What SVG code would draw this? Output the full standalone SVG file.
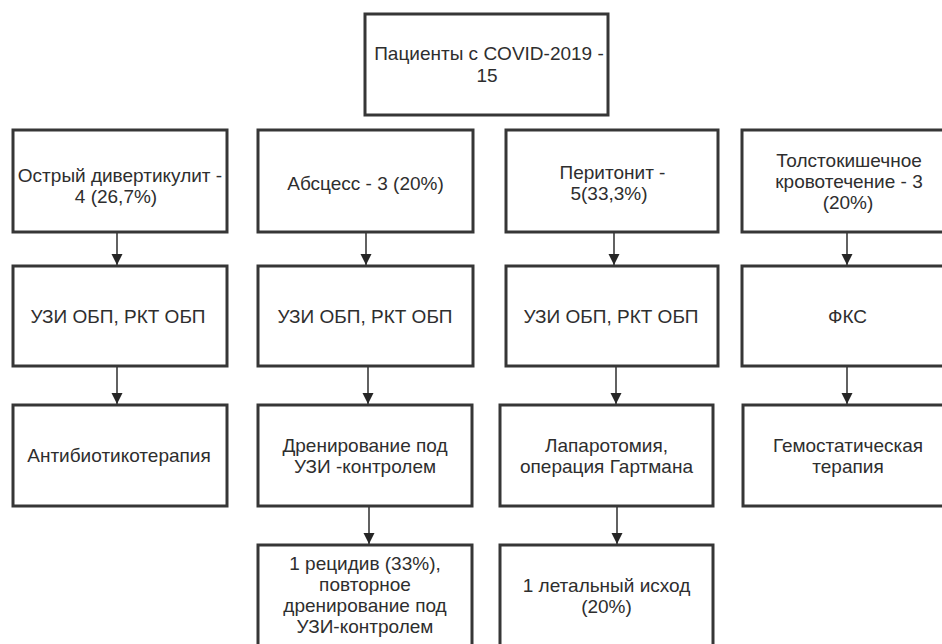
<svg xmlns="http://www.w3.org/2000/svg" width="942" height="644" viewBox="0 0 942 644">
<defs>
<style>
.box{fill:#fff;stroke:#363636;stroke-width:3}
.t{font-family:"Liberation Sans",Arial,sans-serif;font-size:19px;fill:#2e2e2e;text-anchor:middle}
.c{stroke:#3a3a3a;stroke-width:1.6;fill:none}
</style>
<marker id="ah" markerWidth="12" markerHeight="12" refX="11" refY="6" orient="auto" markerUnits="userSpaceOnUse">
<path d="M0,0.5 L11,6 L0,11.5 Z" fill="#262626"/>
</marker>
</defs>
<rect width="942" height="644" fill="#fff"/>
<g id="connectors">
<line class="c" x1="117" y1="233" x2="117" y2="265" marker-end="url(#ah)"/>
<line class="c" x1="366" y1="233" x2="366" y2="265" marker-end="url(#ah)"/>
<line class="c" x1="614" y1="233" x2="614" y2="265" marker-end="url(#ah)"/>
<line class="c" x1="847" y1="233" x2="847" y2="265" marker-end="url(#ah)"/>
<line class="c" x1="117" y1="367" x2="117" y2="404" marker-end="url(#ah)"/>
<line class="c" x1="368" y1="367" x2="368" y2="404" marker-end="url(#ah)"/>
<line class="c" x1="616" y1="367" x2="616" y2="404" marker-end="url(#ah)"/>
<line class="c" x1="847" y1="367" x2="847" y2="404" marker-end="url(#ah)"/>
<line class="c" x1="369" y1="507" x2="369" y2="544" marker-end="url(#ah)"/>
<line class="c" x1="617" y1="507" x2="617" y2="544" marker-end="url(#ah)"/>
</g>
<g id="n0"><rect class="box" x="365" y="14" width="243" height="101"/>
<text class="t" x="489" y="59.5">Пациенты с COVID-2019 -</text><text class="t" x="487" y="81.5">15</text></g>
<g id="n1"><rect class="box" x="13" y="130" width="214" height="102"/>
<text class="t" x="120" y="182">Острый дивертикулит -</text><text class="t" x="116" y="203">4 (26,7%)</text></g>
<g id="n2"><rect class="box" x="258" y="130" width="215" height="102"/>
<text class="t" x="365.5" y="189.5">Абсцесс - 3 (20%)</text></g>
<g id="n3"><rect class="box" x="506" y="130" width="212" height="102"/>
<text class="t" x="612.5" y="179">Перитонит -</text><text class="t" x="609" y="200">5(33,3%)</text></g>
<g id="n4"><rect class="box" x="742" y="130" width="212" height="102"/>
<text class="t" x="849" y="166.5">Толстокишечное</text><text class="t" x="849" y="187.5">кровотечение - 3</text><text class="t" x="848" y="208.5">(20%)</text></g>
<g id="n5"><rect class="box" x="13" y="266" width="214" height="100"/>
<text class="t" x="118" y="323">УЗИ ОБП, РКТ ОБП</text></g>
<g id="n6"><rect class="box" x="258" y="266" width="215" height="100"/>
<text class="t" x="365" y="323">УЗИ ОБП, РКТ ОБП</text></g>
<g id="n7"><rect class="box" x="506" y="266" width="212" height="100"/>
<text class="t" x="611" y="323">УЗИ ОБП, РКТ ОБП</text></g>
<g id="n8"><rect class="box" x="742" y="266" width="212" height="100"/>
<text class="t" x="847.5" y="323">ФКС</text></g>
<g id="n9"><rect class="box" x="13" y="405" width="214" height="101"/>
<text class="t" x="119" y="461.5">Антибиотикотерапия</text></g>
<g id="n10"><rect class="box" x="258" y="405" width="214" height="101"/>
<text class="t" x="365" y="452">Дренирование под</text><text class="t" x="365" y="473">УЗИ -контролем</text></g>
<g id="n11"><rect class="box" x="500" y="405" width="213" height="101"/>
<text class="t" x="606.5" y="452">Лапаротомия,</text><text class="t" x="606.5" y="473">операция Гартмана</text></g>
<g id="n12"><rect class="box" x="743" y="405" width="212" height="101"/>
<text class="t" x="848" y="452">Гемостатическая</text><text class="t" x="848" y="473">терапия</text></g>
<g id="n13"><rect class="box" x="258" y="545" width="214" height="102"/>
<text class="t" x="365" y="570">1 рецидив (33%),</text><text class="t" x="365" y="591">повторное</text><text class="t" x="365" y="612">дренирование под</text><text class="t" x="365" y="633">УЗИ-контролем</text></g>
<g id="n14"><rect class="box" x="500" y="545" width="213" height="102"/>
<text class="t" x="606.5" y="591.5">1 летальный исход</text><text class="t" x="606.5" y="612.5">(20%)</text></g>
</svg>
